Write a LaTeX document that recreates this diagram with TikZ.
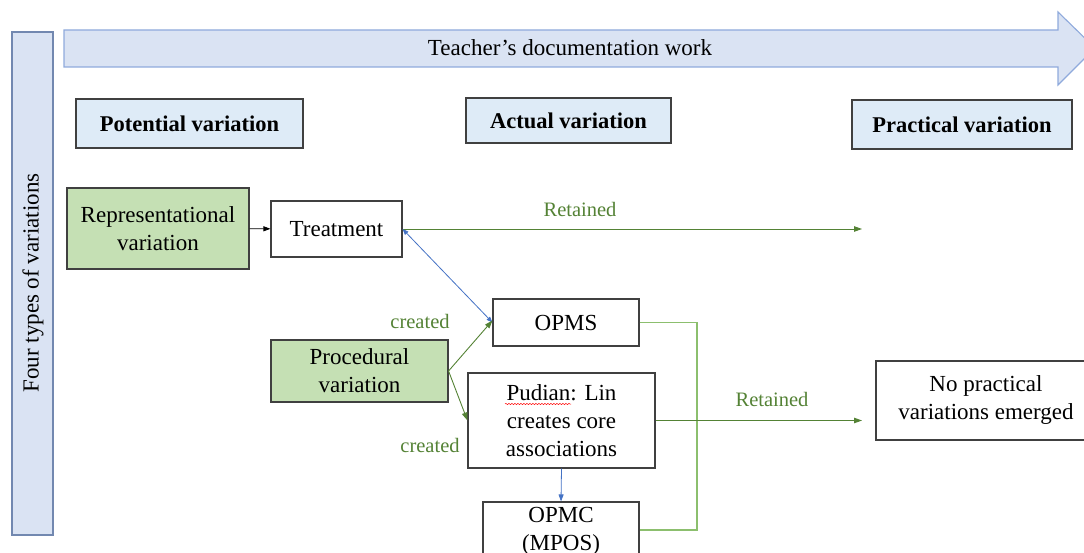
\documentclass[tikz,border=0pt]{standalone}
\usepackage{fontspec}
\setmainfont{Liberation Serif}
\usetikzlibrary{arrows.meta, positioning, decorations.pathmorphing}

\definecolor{bandfill}{HTML}{DAE3F3}
\definecolor{banddraw}{HTML}{8FAADC}
\definecolor{hdrfill}{HTML}{DEEBF7}
\definecolor{varfill}{HTML}{C5E0B4}
\definecolor{retgreen}{HTML}{548235}
\definecolor{linkgreen}{HTML}{8CBF6E}
\definecolor{linkblue}{HTML}{4472C4}
\definecolor{boxgray}{HTML}{404040}

\begin{document}
\begin{tikzpicture}[
    x=1pt, y=-1pt,
    line width=1.1pt,
    box/.style={draw=boxgray, fill=white, minimum width=#1, inner sep=2pt, align=center,
        font=\fontsize{23}{28}\selectfont},
    box/.default=140pt,
    hdr/.style={draw=boxgray, fill=hdrfill, minimum height=47pt, align=center,
        font=\fontsize{22.5}{27}\selectfont\bfseries},
    varbox/.style={box=#1, fill=varfill},
    lbl/.style={text=retgreen, font=\fontsize{20.5}{24}\selectfont},
    retarrow/.style={draw=retgreen, line width=0.9pt, -{Triangle[length=8pt,width=5.5pt]}},
    bluearrow/.style={draw=linkblue, line width=0.8pt}
]

\useasboundingbox (0,0) rectangle (1084,553);
\clip (0,0) rectangle (1084,553);

% Side band and top arrow
\draw[draw=banddraw!80!black, fill=bandfill] (12,32) rectangle (53,535);
\node[rotate=90, font=\fontsize{23}{28}\selectfont] (types) at (33,283) {Four types of variations};

\draw[draw=banddraw, fill=bandfill] (64,30) -- (1058,30) -- (1058,12) -- (1095,48)
    -- (1058,85) -- (1058,67) -- (64,67) -- cycle;
\node[font=\fontsize{23}{28}\selectfont] (work) at (570,48) {Teacher’s documentation work};

% Column headings
\node[hdr, minimum width=227pt, minimum height=49pt] (potential) at (189.5,123.5) {Potential variation};
\node[hdr, minimum width=205pt, minimum height=45pt] (actual) at (568.5,120.5) {Actual variation};
\node[hdr, minimum width=220pt, minimum height=49pt] (practical) at (962,124.5) {Practical variation};

% Variations
\node[varbox=182pt, minimum height=81pt] (repr) at (158,228.5) {Representational\\variation};
\node[box=131pt, minimum height=56pt] (treat) at (336.5,229) {Treatment};
\node[varbox=177pt, minimum height=62pt] (proc) at (359.5,371) {Procedural\\variation};

\node[box=146pt, minimum height=47pt] (opms) at (566,322.5) {OPMS};
\node[box=187pt, minimum height=95pt] (pudian) at (561.5,420.5) {Pudian: Lin\\creates core\\associations};
\node[box=156pt, minimum height=58pt] (opmc) at (561,531) {OPMC\\(MPOS)};
\node[box=220pt, minimum height=79pt] (noprac) at (986,400.5) {No practical\\variations emerged};

% spell-check mark under Pudian
\draw[red, line width=0.5pt, decorate, decoration={snake, amplitude=0.6pt, segment length=3pt}]
    (505,404) -- (571,404);

% Connectors
\coordinate (retend) at (862,229);
\coordinate (retend2) at (862,420.5);
\draw[line width=0.8pt, -{Triangle[length=7pt,width=5pt]}] (repr) -- (treat);
\draw[retarrow] (treat.east) -- (retend);
\node[lbl] (ret1) at (580,209) {Retained};

\draw[bluearrow, {Triangle[length=6pt,width=4.5pt]}-{Triangle[length=6pt,width=4.5pt]}]
    (treat.east) -- (opms.west);
\draw[bluearrow, -{Triangle[length=7pt,width=5pt]}] (pudian.south) -- (opmc.north);

\draw[retarrow] (proc.east) -- ([yshift=2pt]opms.west);
\draw[retarrow] (proc.east) -- (pudian.west);
\node[lbl] (made1) at (420,321) {created};
\node[lbl] (made2) at (430,445) {created};

\draw[draw=linkgreen] (opms.east) -- (697,322.5) -- (697,530) -- (opmc.east |- 0,530);
\draw[retarrow] (pudian.east) -- (retend2);
\node[lbl] (ret2) at (772,399) {Retained};

\end{tikzpicture}
\end{document}
